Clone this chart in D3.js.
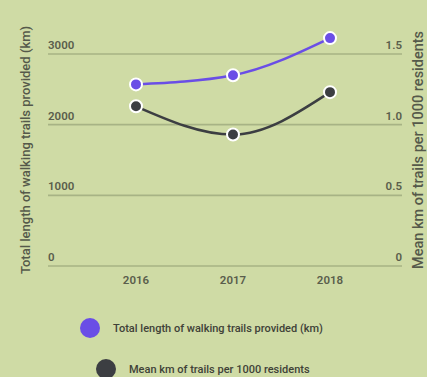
<!DOCTYPE html>
<html>
<head>
<meta charset="utf-8">
<script src="https://cdn.jsdelivr.net/npm/d3@7"></script>
<style>
  html, body { margin: 0; padding: 0; background: #cfdba5; }
  svg { display: block; }
  text { font-family: Roboto, "Noto Sans", sans-serif; }
</style>
</head>
<body>
<svg id="chart" width="427" height="377"></svg>
<script>
const years = ["2016", "2017", "2018"];
const totalLength = [2570, 2700, 3225];
const meanPer1000 = [1.13, 0.93, 1.23];
const leftTicks = [0, 1000, 2000, 3000];
const rightTicks = [0, 0.5, 1.0, 1.5];
const rightTickLabels = ["0", "0.5", "1.0", "1.5"];
const seriesNames = ["Total length of walking trails provided (km)", "Mean km of trails per 1000 residents"];
const seriesColors = ["#6a4ee6", "#3c3e42"];

const svg = d3.select("#chart");
const W = 427, H = 377;
svg.append("rect").attr("width", W).attr("height", H).attr("fill", "#cfdba5");

const x0 = 48, x1 = 402;
const x = d3.scalePoint().domain(years).range([136, 330]);
const yL = d3.scaleLinear().domain([0, 3000]).range([266, 54]);
const yR = d3.scaleLinear().domain([0, 1.5]).range([266, 54]);

// grid lines
svg.append("g").selectAll("line").data(leftTicks).join("line")
  .attr("x1", x0).attr("x2", x1)
  .attr("y1", d => yL(d)).attr("y2", d => yL(d))
  .attr("stroke", "#a7b385").attr("stroke-width", 1.6);

// left tick labels
svg.append("g").selectAll("text").data(leftTicks).join("text")
  .attr("x", x0).attr("y", d => yL(d) - 5)
  .attr("font-size", 11.5).attr("font-weight", 600).attr("fill", "#5a5e4c")
  .text(d => d);

// right tick labels
svg.append("g").selectAll("text").data(rightTicks).join("text")
  .attr("x", x1).attr("y", d => yR(d) - 5)
  .attr("text-anchor", "end")
  .attr("font-size", 11.5).attr("font-weight", 600).attr("fill", "#5a5e4c")
  .text((d, i) => rightTickLabels[i]);

// x labels
svg.append("g").selectAll("text").data(years).join("text")
  .attr("x", d => x(d)).attr("y", 284)
  .attr("text-anchor", "middle")
  .attr("font-size", 11.5).attr("font-weight", 600).attr("fill", "#5a5e4c")
  .text(d => d);

// axis titles
svg.append("text")
  .attr("transform", "translate(30,150) rotate(-90)")
  .attr("text-anchor", "middle")
  .attr("font-size", 13).attr("font-weight", 500).attr("fill", "#55594a")
  .text(seriesNames[0]);
svg.append("text")
  .attr("transform", "translate(423,269) rotate(-90)")
  .attr("text-anchor", "start")
  .attr("font-size", 14.5).attr("font-weight", 500).attr("fill", "#55594a")
  .text(seriesNames[1]);

// lines
const lineL = d3.line().x((d, i) => x(years[i])).y(d => yL(d)).curve(d3.curveMonotoneX);
const lineR = d3.line().x((d, i) => x(years[i])).y(d => yR(d)).curve(d3.curveMonotoneX);

svg.append("path").attr("d", lineR(meanPer1000))
  .attr("fill", "none").attr("stroke", seriesColors[1]).attr("stroke-width", 2.5);
svg.append("path").attr("d", lineL(totalLength))
  .attr("fill", "none").attr("stroke", seriesColors[0]).attr("stroke-width", 2.5);

svg.append("g").selectAll("circle").data(meanPer1000).join("circle")
  .attr("cx", (d, i) => x(years[i])).attr("cy", d => yR(d)).attr("r", 6)
  .attr("fill", seriesColors[1]).attr("stroke", "#ffffff").attr("stroke-width", 2);
svg.append("g").selectAll("circle").data(totalLength).join("circle")
  .attr("cx", (d, i) => x(years[i])).attr("cy", d => yL(d)).attr("r", 6)
  .attr("fill", seriesColors[0]).attr("stroke", "#ffffff").attr("stroke-width", 2);

// legend
const legendPos = [{cx: 90, cy: 328}, {cx: 106, cy: 369}];
const lg = svg.append("g");
seriesNames.forEach((name, i) => {
  lg.append("circle").attr("cx", legendPos[i].cx).attr("cy", legendPos[i].cy).attr("r", 10)
    .attr("fill", seriesColors[i]);
  lg.append("text").attr("x", legendPos[i].cx + 23).attr("y", legendPos[i].cy + 4)
    .attr("font-size", 11).attr("font-weight", 500).attr("fill", "#404238")
    .text(name);
});
</script>
</body>
</html>
